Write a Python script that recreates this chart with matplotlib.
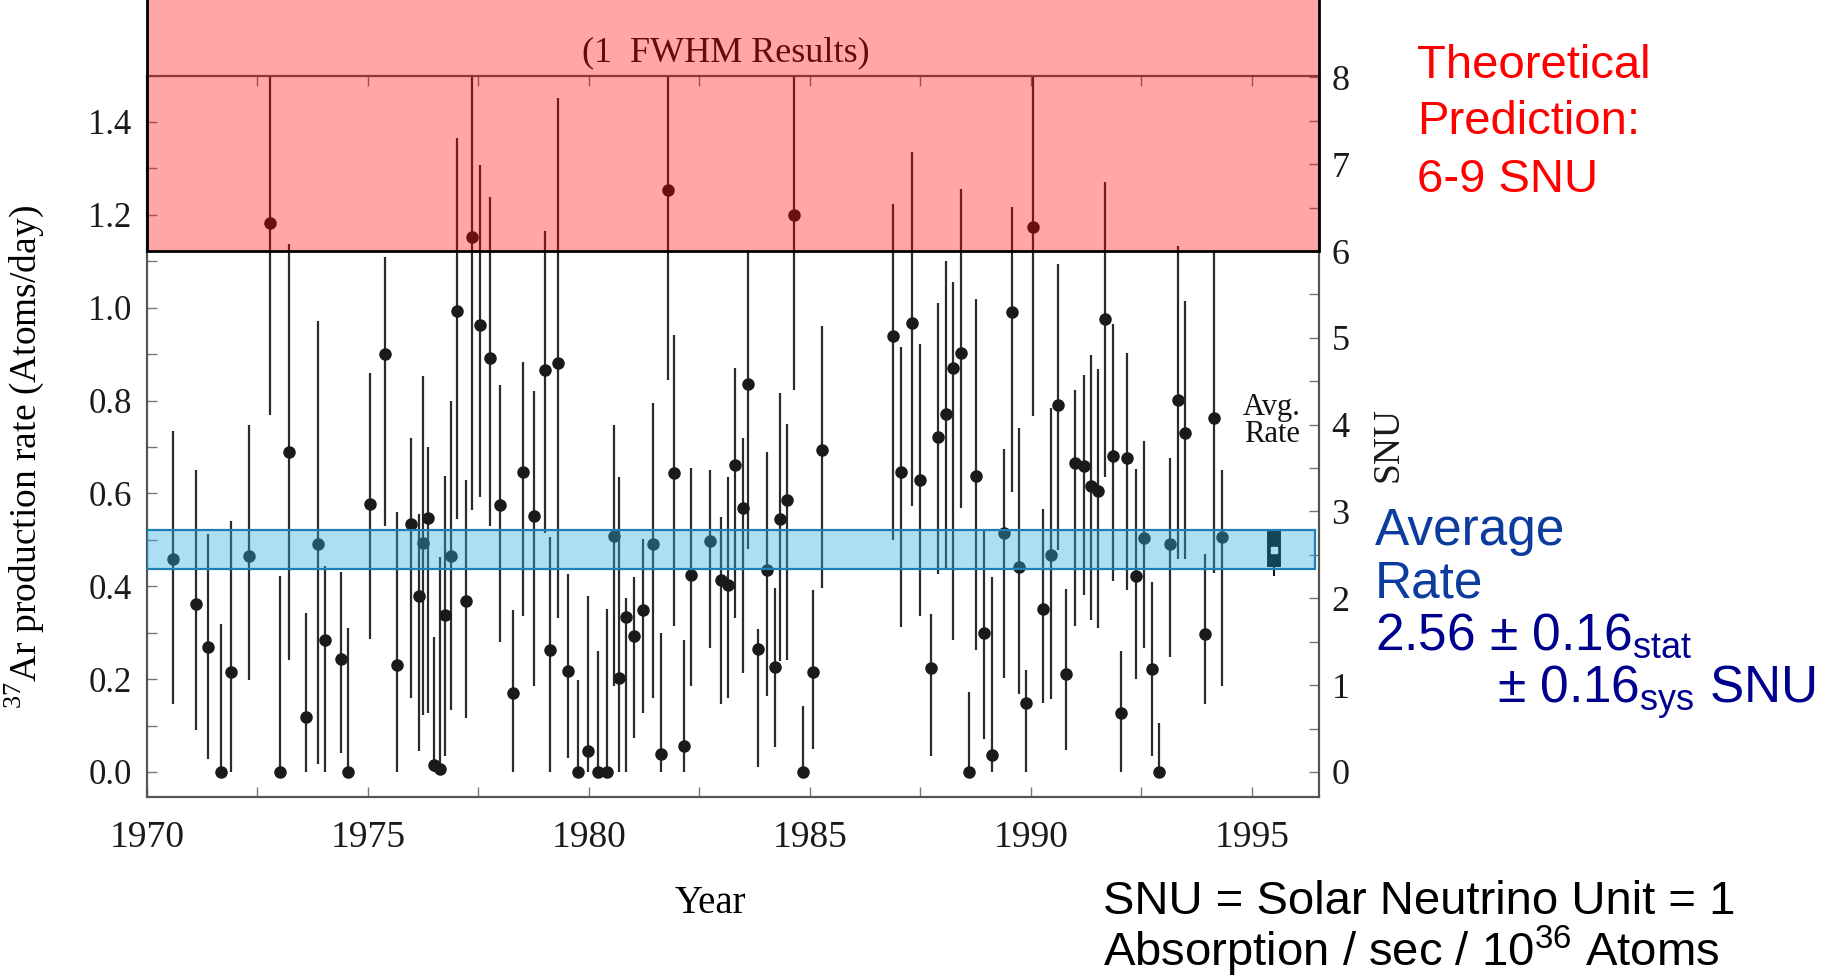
import numpy as np
import matplotlib
matplotlib.use("Agg")
import matplotlib.pyplot as plt
from matplotlib.patches import Rectangle
from matplotlib.ticker import MultipleLocator

plt.rcParams["font.family"] = ["Liberation Serif", "DejaVu Serif"]
plt.rcParams["mathtext.fontset"] = "custom"
plt.rcParams["mathtext.rm"] = "Liberation Serif"
plt.rcParams["mathtext.sf"] = "Liberation Sans"

# ---- run-by-run 37Ar production rate (atoms/day) ----
years = [1970.60, 1971.10, 1971.38, 1971.67, 1971.90, 1972.31, 1972.78, 1973.00, 1973.22, 1973.59,
         1973.88, 1974.03, 1974.40, 1974.56, 1975.05, 1975.39, 1975.66, 1975.98, 1976.15, 1976.24,
         1976.35, 1976.49, 1976.63, 1976.74, 1976.88, 1977.01, 1977.23, 1977.35, 1977.53, 1977.76,
         1977.99, 1978.29, 1978.52, 1978.75, 1979.00, 1979.12, 1979.31, 1979.52, 1979.76, 1979.99,
         1980.21, 1980.40, 1980.56, 1980.68, 1980.83, 1981.01, 1981.23, 1981.46, 1981.63, 1981.79,
         1981.92, 1982.16, 1982.31, 1982.73, 1982.98, 1983.15, 1983.30, 1983.48, 1983.61, 1983.82,
         1984.04, 1984.20, 1984.32, 1984.49, 1984.63, 1984.85, 1985.07, 1985.28, 1986.88, 1987.07,
         1987.31, 1987.49, 1987.73, 1987.90, 1988.09, 1988.25, 1988.42, 1988.60, 1988.76, 1988.93,
         1989.13, 1989.39, 1989.58, 1989.73, 1989.90, 1990.04, 1990.27, 1990.46, 1990.61, 1990.79,
         1990.99, 1991.21, 1991.36, 1991.52, 1991.68, 1991.86, 1992.04, 1992.17, 1992.38, 1992.57,
         1992.74, 1992.90, 1993.16, 1993.32, 1993.48, 1993.94, 1994.14, 1994.33]
rate = [0.458, 0.362, 0.269, 0.000, 0.215, 0.465, 1.182, 0.000, 0.690, 0.119,
        0.490, 0.285, 0.243, 0.000, 0.578, 0.901, 0.230, 0.535, 0.379, 0.494,
        0.546, 0.015, 0.006, 0.338, 0.465, 0.993, 0.369, 1.153, 0.962, 0.892,
        0.574, 0.169, 0.645, 0.551, 0.866, 0.263, 0.880, 0.218, 0.000, 0.046,
        0.000, 0.000, 0.508, 0.202, 0.333, 0.292, 0.349, 0.490, 0.039, 1.253,
        0.643, 0.055, 0.425, 0.497, 0.413, 0.403, 0.662, 0.568, 0.836, 0.265,
        0.434, 0.227, 0.545, 0.586, 1.199, 0.000, 0.215, 0.694, 0.940, 0.645,
        0.967, 0.629, 0.223, 0.722, 0.770, 0.871, 0.903, 0.000, 0.638, 0.299,
        0.036, 0.514, 0.990, 0.442, 0.148, 1.174, 0.351, 0.468, 0.790, 0.211,
        0.665, 0.660, 0.615, 0.605, 0.975, 0.680, 0.126, 0.676, 0.421, 0.503,
        0.222, 0.000, 0.492, 0.801, 0.731, 0.297, 0.763, 0.506]
rate_lo = [0.147, 0.091, 0.027, 0.000, 0.000, 0.198, 0.769, 0.000, 0.241, 0.000,
           0.018, 0.000, 0.041, 0.000, 0.287, 0.530, 0.000, 0.159, 0.046, 0.123,
           0.128, 0.000, 0.000, 0.035, 0.133, 0.545, 0.116, 0.564, 0.592, 0.530,
           0.279, 0.000, 0.336, 0.186, 0.515, 0.000, 0.332, 0.031, 0.000, 0.000,
           0.000, 0.000, 0.186, 0.000, 0.000, 0.074, 0.126, 0.159, 0.000, 0.845,
           0.315, 0.000, 0.186, 0.266, 0.147, 0.159, 0.332, 0.213, 0.481, 0.010,
           0.164, 0.054, 0.239, 0.241, 0.823, 0.000, 0.049, 0.397, 0.499, 0.312,
           0.573, 0.336, 0.034, 0.427, 0.440, 0.285, 0.568, 0.000, 0.263, 0.071,
           0.000, 0.203, 0.603, 0.167, 0.000, 0.766, 0.149, 0.157, 0.478, 0.048,
           0.315, 0.382, 0.327, 0.309, 0.636, 0.411, 0.000, 0.392, 0.200, 0.266,
           0.034, 0.000, 0.248, 0.459, 0.459, 0.147, 0.429, 0.185]
rate_hi = [0.735, 0.650, 0.512, 0.318, 0.541, 0.747, 1.595, 0.423, 1.138, 0.343,
           0.972, 0.444, 0.430, 0.310, 0.859, 1.109, 0.560, 0.720, 0.556, 0.853,
           0.699, 0.291, 0.464, 0.638, 0.798, 1.365, 0.629, 1.742, 1.307, 1.239,
           0.834, 0.348, 0.883, 0.820, 1.166, 0.507, 1.451, 0.427, 0.197, 0.378,
           0.261, 0.350, 0.747, 0.636, 0.374, 0.419, 0.502, 0.794, 0.300, 1.661,
           0.941, 0.285, 0.654, 0.650, 0.550, 0.636, 0.871, 0.720, 1.121, 0.307,
           0.690, 0.397, 0.816, 0.750, 1.575, 0.141, 0.392, 0.961, 1.224, 0.915,
           1.336, 0.921, 0.341, 1.011, 1.101, 1.056, 1.256, 0.173, 1.019, 0.523,
           0.419, 0.695, 1.217, 0.741, 0.219, 1.582, 0.567, 0.784, 1.094, 0.394,
           0.822, 0.855, 0.897, 0.868, 1.270, 0.965, 0.261, 0.902, 0.652, 0.713,
           0.409, 0.106, 0.676, 1.132, 1.014, 0.469, 1.119, 0.650]

# conversion between production rate and SNU
RATE_PER_SNU = 0.187

# average and theoretical band (SNU)
avg_snu = 2.56
avg_stat = 0.16
avg_sys = 0.16
avg_year = 1995.5
avg_tail_lo = 0.422
theory_snu = (6.0, 9.0)

x_ticks = [1970, 1975, 1980, 1985, 1990, 1995]
snu_ticks = [0, 1, 2, 3, 4, 5, 6, 7, 8]


def to_snu(r):
    return r / RATE_PER_SNU


def to_rate(s):
    return s * RATE_PER_SNU


rate = np.array(rate)
rate_lo = np.array(rate_lo)
rate_hi = np.array(rate_hi)

fig = plt.figure(figsize=(18.37, 9.76), dpi=100)
ax = fig.add_axes([0.080, 0.1834, 0.638, 0.7392])

ax.errorbar(years, rate, yerr=[rate - rate_lo, rate_hi - rate], fmt="o", ms=8,
            color="#1a1a1a", ecolor="#2b2b2b", elinewidth=1.6, capsize=0, zorder=2)

# average rate marker
avg_rate = to_rate(avg_snu)
avg_err = to_rate(np.hypot(avg_stat, avg_sys))
ax.vlines(avg_year, avg_tail_lo, avg_rate, color="#111111", lw=1.5, zorder=2)
ax.vlines(avg_year, avg_rate - avg_err * 0.9, avg_rate + avg_err, color="#000000",
          lw=10, zorder=2)
ax.plot(avg_year, avg_rate, "s", ms=5, color="white", zorder=2.2)

# band for the average rate
ax.axhspan(avg_rate - avg_err, avg_rate + avg_err, xmin=0.0, xmax=0.997,
           facecolor=(50 / 255, 175 / 255, 225 / 255, 0.4), edgecolor="#1e7fb5",
           lw=1.6, zorder=3)

ax.text(0.494, 1.031, "(1  FWHM Results)", transform=ax.transAxes, ha="center",
        va="center", fontsize=26, color="#111111", zorder=3)

# theoretical prediction band
ax.add_patch(Rectangle((1970, to_rate(theory_snu[0])), 26.52,
                       to_rate(theory_snu[1]) - to_rate(theory_snu[0]),
                       facecolor=(1, 0, 0, 0.35), edgecolor="black", lw=2,
                       clip_on=False, zorder=4))

ax.text(avg_year - 0.04, 0.756, "Avg.\nRate", ha="center", va="center",
        fontsize=22, linespacing=0.9, color="#111111")

ax.set_xlim(1970, 1996.52)
ax.set_ylim(-0.054, 1.50)
ax.set_xticks(x_ticks)
ax.xaxis.set_minor_locator(MultipleLocator(2.5))
ax.yaxis.set_minor_locator(MultipleLocator(0.1))
ax.set_yticks(np.arange(0, 1.41, 0.2))
ax.set_yticklabels([f"{v:.1f}" for v in np.arange(0, 1.41, 0.2)])

for s in ["left", "bottom", "top"]:
    ax.spines[s].set_color("#555555")
    ax.spines[s].set_linewidth(1.6)
ax.spines["right"].set_visible(False)

ax.tick_params(axis="x", which="both", direction="in", top=True, length=7,
               width=1, color="#777777", labelsize=27, pad=17, labelcolor="#1a1a1a")
ax.tick_params(axis="y", which="both", direction="in", length=7, width=1,
               color="#777777", labelsize=25, pad=11, labelcolor="#1a1a1a")

ax.set_ylabel(r"$^{\mathrm{37}}$Ar production rate (Atoms/day)", fontsize=27)
ax.yaxis.set_label_coords(-0.086, 0.471)
ax.set_xlabel("Year", fontsize=28)
ax.xaxis.set_label_coords(0.481, -0.122)

sec = ax.secondary_yaxis("right", functions=(to_snu, to_rate))
sec.set_yticks(snu_ticks)
sec.yaxis.set_minor_locator(MultipleLocator(0.5))
sec.spines["right"].set_color("#555555")
sec.spines["right"].set_linewidth(1.6)
sec.tick_params(which="both", direction="in", length=7, width=1, color="#777777",
                labelsize=26, pad=9, labelcolor="#1a1a1a")
ax.text(1.059, 0.488, "SNU", transform=ax.transAxes, rotation=90, ha="center",
        va="center", fontsize=27, color="#1a1a1a")

# annotations on the right
red_kw = dict(family=["Liberation Sans", "DejaVu Sans"], fontsize=34, color="#ff0000")
fig.text(0.7712, 0.9201, "Theoretical", **red_kw)
fig.text(0.7712, 0.8627, "Prediction:", **red_kw)
fig.text(0.7712, 0.8033, "6-9 SNU", **red_kw)

blue_kw = dict(family=["Liberation Sans", "DejaVu Sans"], fontsize=37)
fig.text(0.7485, 0.4421, "Average", color="#0b3c9e", **blue_kw)
fig.text(0.7485, 0.3873, "Rate", color="#0b3c9e", **blue_kw)
fig.text(0.7485, 0.3340, f"{avg_snu:.2f} ± {avg_stat:.2f}" + r"$_{\mathsf{stat}}$",
         color="#00008f", **blue_kw)
fig.text(0.8150, 0.2797, f"± {avg_sys:.2f}" + r"$_{\mathsf{sys}}$" + " SNU",
         color="#00008f", **blue_kw)

black_kw = dict(family=["Liberation Sans", "DejaVu Sans"], fontsize=34, color="black")
fig.text(0.6002, 0.0635, "SNU = Solar Neutrino Unit = 1", **black_kw)
fig.text(0.6002, 0.0102, r"Absorption / sec / 10$^{\mathsf{36}}$ Atoms", **black_kw)

fig.savefig("out.png", dpi=100)
